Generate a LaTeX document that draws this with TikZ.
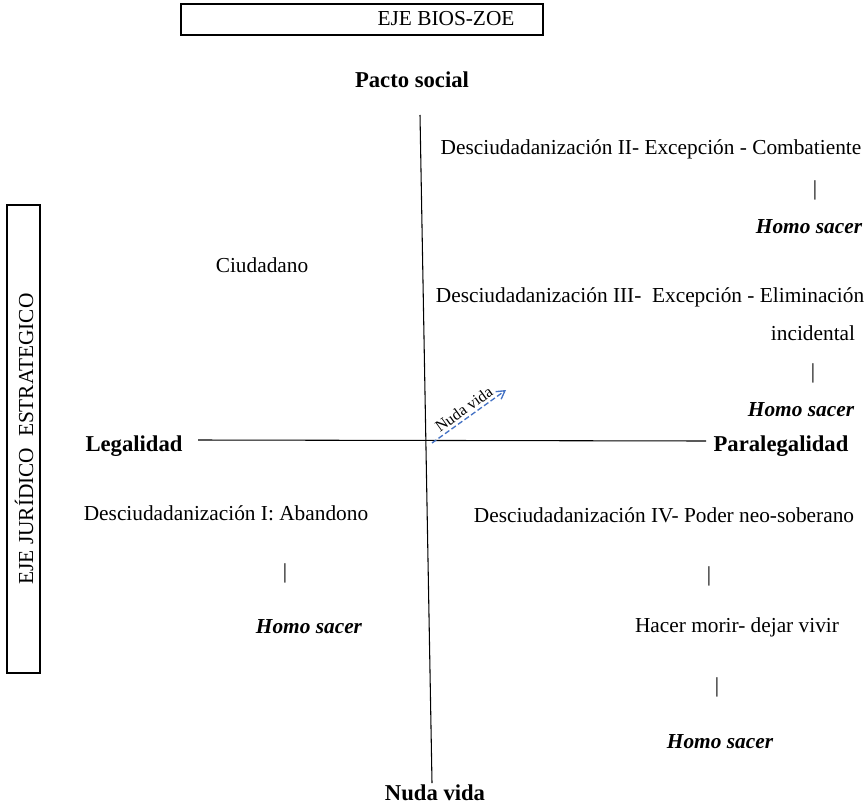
\documentclass[tikz,border=0pt]{standalone}
\usepackage{fontspec}
\setmainfont{Liberation Serif}
\usepackage{tikz}
\usetikzlibrary{arrows.meta,positioning}
\definecolor{nudablue}{RGB}{68,114,196}
\tikzset{
  txt/.style={inner sep=0pt, font=\fontsize{16}{19}\selectfont},
  polo/.style={inner sep=0pt, font=\fontsize{17}{20}\selectfont\bfseries},
  sacer/.style={inner sep=0pt, font=\fontsize{16}{19}\selectfont\bfseries\itshape},
  ejebox/.style={draw, line width=0.9pt},
  eje/.style={line width=0.8pt},
  nudavec/.style={-{Straight Barb[length=6pt, width=7pt]}, dash pattern=on 4pt off 2pt, line width=1pt, nudablue},
}
\begin{document}
\begin{tikzpicture}[x=0.75pt, y=-0.75pt]
\useasboundingbox (0,0) rectangle (866,806);
% marcos de los ejes
\draw[ejebox] (181,4) rectangle (543,35);
\node[txt] (bioszoe) at (446,19) {EJE BIOS-ZOE};
\draw[ejebox] (7,205) rectangle (40,673);
\node[txt, rotate=90] (juridico) at (24,439) {EJE JURÍDICO\ \ ESTRATEGICO};
% polos
\node[polo] (pacto) at (412,80) {Pacto social};
\node[polo] (nuda) at (435,793) {Nuda vida};
\node[polo] (legal) at (134,446) {Legalidad};
\node[polo] (paralegal) at (781,446) {Paralegalidad};
\coordinate (vtop) at (420,115);
\coordinate (vbot) at (432,783);
\coordinate (hleft) at (198,440);
\coordinate (hright) at (706,441);
\draw[eje] (vtop) -- (vbot);
\draw[eje] (hleft) -- (hright);
\coordinate (origen) at (432,443);
\coordinate (punta) at (506,390);
\draw[nudavec] (origen) -- (punta) node[pos=0.5, sloped, above=2pt, inner sep=0pt, text=black, font=\fontsize{12}{14}\selectfont] {Nuda vida};
% cuadrantes
\node[txt] (ciud) at (262,265) {Ciudadano};
\node[txt] (des2) at (651,149) {Desciudadanización II- Excepción - Combatiente};
\node[txt] (bar2) at (815,190) {|};
\node[sacer] (hs2) at (809,227) {Homo sacer};
\node[txt] (des3) at (650,297) {Desciudadanización III-\ \ Excepción - Eliminación};
\node[txt] (incid) at (813,333) {incidental};
\node[txt] (bar3) at (813,373) {|};
\node[sacer] (hs3) at (801,410) {Homo sacer};
\node[txt] (des1) at (226,513) {Desciudadanización I: Abandono};
\node[txt] (bar1) at (285,573) {|};
\node[sacer] (hs1) at (309,627) {Homo sacer};
\node[txt] (des4) at (664,515) {Desciudadanización IV- Poder neo-soberano};
\node[txt] (bar4a) at (709,576) {|};
\node[txt] (morir) at (737,627) {Hacer morir- dejar vivir};
\node[txt] (bar4b) at (717,687) {|};
\node[sacer] (hs4) at (720,742) {Homo sacer};
\end{tikzpicture}
\end{document}
